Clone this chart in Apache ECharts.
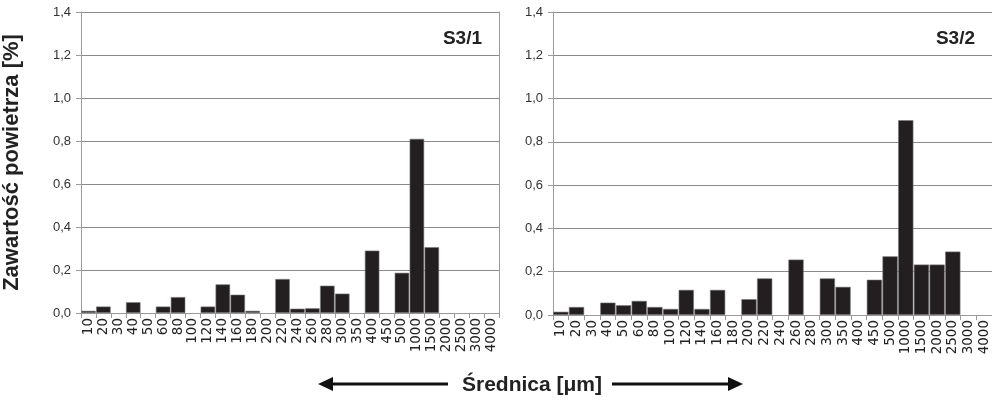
<!DOCTYPE html>
<html>
<head>
<meta charset="utf-8">
<script src="https://cdn.jsdelivr.net/npm/echarts@6/dist/echarts.min.js"></script>
<style>
html,body{margin:0;padding:0;background:#fff;}
#chart{width:992px;height:405px;}
</style>
</head>
<body>
<div id="chart"></div>
<script>
const categories = ['10','20','30','40','50','60','80','100','120','140','160','180','200','220','240','260','280','300','350','400','450','500','1000','1500','2000','2500','3000','4000'];
const seriesS31 = [0.01,0.03,null,0.05,null,0.03,0.074,null,0.03,0.133,0.085,0.01,null,0.158,0.02,0.022,0.127,0.09,null,0.29,null,0.187,0.81,0.306,null,null,null,null];
const seriesS32 = [0.015,0.037,null,0.057,0.045,0.065,0.037,0.028,0.116,0.028,0.116,null,0.073,0.169,null,0.256,null,0.169,0.13,null,0.163,0.271,0.9,0.233,0.233,0.293,null,null];
const titles = ['S3/1','S3/2'];
const yName = 'Zawartość powietrza [%]';
const xName = 'Średnica [μm]';

const chart = echarts.init(document.getElementById('chart'), null, {renderer:'canvas'});
const font = 'Liberation Sans, Arial, sans-serif';
const gridColor = '#8a8a8a';
const axisColor = '#9a9a9a';

function xAxis(gi){
  return {
    type:'category', gridIndex:gi, data:categories,
    axisLine:{show:true, lineStyle:{color:axisColor, width:1}},
    axisTick:{show:true, alignWithLabel:false, length:5, lineStyle:{color:axisColor}},
    axisLabel:{rotate:90, interval:0, margin:5, fontSize:13.5, fontFamily:'DejaVu Sans, sans-serif', color:'#222'},
    splitLine:{show:false}
  };
}
function yAxis(gi, withName){
  return {
    type:'value', gridIndex:gi, min:0, max:1.4, interval:0.2,
    name: withName ? yName : '',
    nameLocation:'middle', nameGap:58, nameRotate:90,
    nameTextStyle:{fontSize:22, fontWeight:'bold', fontFamily:font, color:'#222'},
    axisLine:{show:true, lineStyle:{color:axisColor}},
    axisTick:{show:true, length:5, lineStyle:{color:axisColor}},
    axisLabel:{margin:10, fontSize:13, fontFamily:font, color:'#333', formatter:v=>v.toFixed(1).replace('.',',')},
    splitLine:{show:true, lineStyle:{color:gridColor, width:1}}
  };
}
function borderAxis(gi){
  return {
    type:'value', gridIndex:gi, position:'right', min:0, max:1.4, interval:0.2,
    axisLine:{show:true, lineStyle:{color:axisColor}},
    axisTick:{show:false}, axisLabel:{show:false}, splitLine:{show:false}
  };
}
const barStyle = {color:'#231f20', borderColor:'#777', borderWidth:0.6};

chart.setOption({
  animation:false,
  backgroundColor:'#fff',
  title:[
    {text:titles[0], right:505, top:24, textStyle:{fontSize:19, fontWeight:'bold', fontFamily:font, color:'#222'}},
    {text:titles[1], right:12, top:24, textStyle:{fontSize:19, fontWeight:'bold', fontFamily:font, color:'#222'}}
  ],
  grid:[
    {left:81, width:418, top:12, bottom:92, containLabel:false},
    {left:553, width:439, top:12, bottom:90, containLabel:false}
  ],
  xAxis:[xAxis(0), xAxis(1)],
  yAxis:[yAxis(0,true), yAxis(1,false), borderAxis(0), borderAxis(1)],
  series:[
    {type:'bar', xAxisIndex:0, yAxisIndex:0, data:seriesS31, barCategoryGap:'3%', itemStyle:barStyle},
    {type:'bar', xAxisIndex:1, yAxisIndex:1, data:seriesS32, barCategoryGap:'3%', itemStyle:barStyle}
  ],
  graphic:[
    {type:'text', x:532, y:385, style:{text:xName, font:'bold 21px '+font, fill:'#222', textAlign:'center', textVerticalAlign:'middle'}},
    {type:'line', shape:{x1:330, y1:384, x2:448, y2:384}, style:{stroke:'#111', lineWidth:3}},
    {type:'polygon', shape:{points:[[318,384],[333,377],[333,391]]}, style:{fill:'#111'}},
    {type:'line', shape:{x1:612, y1:384, x2:730, y2:384}, style:{stroke:'#111', lineWidth:3}},
    {type:'polygon', shape:{points:[[743,384],[728,377],[728,391]]}, style:{fill:'#111'}}
  ]
});
</script>
</body>
</html>
